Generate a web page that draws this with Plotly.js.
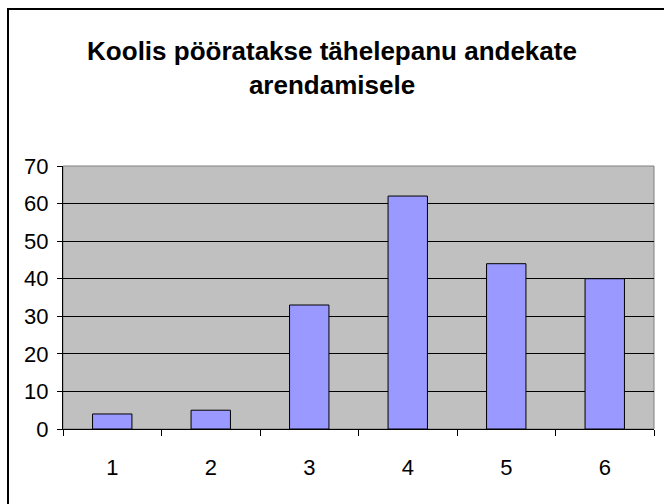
<!DOCTYPE html>
<html>
<head>
<meta charset="utf-8">
<script src="https://cdn.plot.ly/plotly-3.0.1.min.js"></script>
<style>html,body{margin:0;padding:0;background:#fff;}#chart{width:664px;height:504px;}</style>
</head>
<body>
<div id="chart"></div>
<script>
var categories = ['1', '2', '3', '4', '5', '6'];
var values = [4, 5, 33, 62, 44, 40];
var yTicks = [0, 10, 20, 30, 40, 50, 60, 70];
var titleText = 'Koolis pööratakse tähelepanu andekate<br>arendamisele';

var W = 664, H = 504, ml = 63, mr = 10, mt = 166, mb = 75;
var pw = W - ml - mr, ph = H - mt - mb;
function px(x) { return (x - ml) / pw; }
function py(y) { return (H - mb - y) / ph; }

var FONT = 'Liberation Sans, Arial, sans-serif';

var trace = {
  type: 'bar',
  x: categories,
  y: values,
  marker: { color: '#9999FF', line: { color: '#000000', width: 1 } },
  hoverinfo: 'none'
};

var layout = {
  width: W, height: H,
  margin: { l: ml, r: mr, t: mt, b: mb },
  paper_bgcolor: '#ffffff',
  plot_bgcolor: '#C0C0C0',
  showlegend: false,
  bargap: 0.6,
  font: { family: FONT, color: '#000', size: 22 },
  title: {
    text: titleText,
    font: { family: FONT, size: 26, color: '#000', weight: 'bold' },
    x: 0.5, xref: 'container', xanchor: 'center',
    y: 1 - 60 / H, yref: 'container', yanchor: 'middle'
  },
  xaxis: {
    type: 'category',
    tickson: 'boundaries',
    ticks: 'outside', ticklen: 6, tickcolor: '#000', tickwidth: 1,
    showline: true, linecolor: '#000', linewidth: 1,
    showgrid: false, zeroline: false,
    ticklabelstandoff: 19,
    tickfont: { family: FONT, size: 22 },
    fixedrange: true
  },
  yaxis: {
    range: [0, 70],
    tickvals: yTicks,
    ticktext: yTicks.map(String),
    ticks: 'outside', ticklen: 5, tickcolor: '#000', tickwidth: 1,
    showline: true, linecolor: '#000', linewidth: 1,
    showgrid: true, gridcolor: '#000', gridwidth: 1,
    zeroline: false,
    ticklabelstandoff: 4,
    tickfont: { family: FONT, size: 22 },
    fixedrange: true
  },
  shapes: [
    { type: 'rect', xref: 'paper', yref: 'paper', x0: 0, x1: 1, y0: 0, y1: 1,
      line: { color: '#808080', width: 1 }, layer: 'below', fillcolor: 'rgba(0,0,0,0)' },
    { type: 'rect', xref: 'paper', yref: 'paper',
      x0: px(8), x1: px(W + 10), y0: py(H + 10), y1: py(9),
      line: { color: '#000', width: 2 }, fillcolor: 'rgba(0,0,0,0)' }
  ]
};

Plotly.newPlot('chart', [trace], layout, { staticPlot: true, displayModeBar: false });
</script>
</body>
</html>
